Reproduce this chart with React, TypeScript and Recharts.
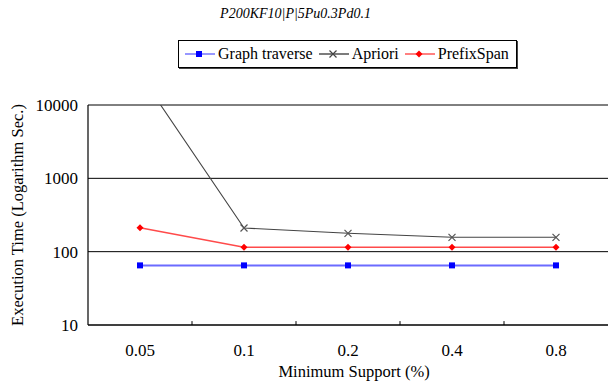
import { LineChart, Line, XAxis, YAxis, CartesianGrid, Legend, ReferenceLine } from 'recharts';

const supports = ['0.05', '0.1', '0.2', '0.4', '0.8'];
const graphTraverse = [65, 65, 65, 65, 65];
const apriori = [26000, 210, 178, 157, 157];
const prefixSpan = [212, 115, 115, 115, 115];
const yTicks = [10, 100, 1000, 10000];
const seriesOrder = ['Graph traverse', 'Apriori', 'PrefixSpan'];

// x sits in the middle of each category slot, slot edges get a short inward tick
const slotCenters = supports.map((_, i) => i + 0.5);
const slotEdges = [1, 2, 3, 4];
const edgeTickTop = 11.3; // about 4px above the 10 baseline on the log axis

const data = supports.map((s, i) => ({
  x: slotCenters[i],
  support: s,
  graph: graphTraverse[i],
  apriori: apriori[i],
  prefix: prefixSpan[i],
}));

const FONT = 'Liberation Serif';

const Square = (props: any) => {
  const { cx, cy, fill } = props;
  if (cx == null || cy == null) return null;
  return <rect x={cx - 3} y={cy - 3} width={6} height={6} fill={fill} />;
};

const Diamond = (props: any) => {
  const { cx, cy, fill } = props;
  if (cx == null || cy == null) return null;
  return <path d={`M${cx},${cy - 3.5}L${cx + 3.5},${cy}L${cx},${cy + 3.5}L${cx - 3.5},${cy}Z`} fill={fill} />;
};

const Cross = (props: any) => {
  const { cx, cy, stroke } = props;
  if (cx == null || cy == null) return null;
  return (
    <path
      d={`M${cx - 3.5},${cy - 3.5}L${cx + 3.5},${cy + 3.5}M${cx - 3.5},${cy + 3.5}L${cx + 3.5},${cy - 3.5}`}
      stroke={stroke}
      strokeWidth={1.2}
      fill="none"
    />
  );
};

const markerFor: Record<string, (p: any) => any> = {
  'Graph traverse': (p) => <Square {...p} />,
  Apriori: (p) => <Cross {...p} />,
  PrefixSpan: (p) => <Diamond {...p} />,
};

const markerColor: Record<string, string> = {
  'Graph traverse': '#0000ff',
  Apriori: '#444444',
  PrefixSpan: '#ff0000',
};

const LegendBox = ({ payload }: any) => {
  const items = [...(payload || [])].sort((a: any, b: any) => seriesOrder.indexOf(a.value) - seriesOrder.indexOf(b.value));
  return (
    <div
      style={{
        border: '1px solid #000',
        width: 337,
        height: 26,
        display: 'flex',
        alignItems: 'center',
        fontFamily: FONT,
        fontSize: 16,
        color: '#000',
        boxShadow: '1px 1px 0 #444',
      }}
    >
      {items.map((item: any) => (
        <div key={item.value} style={{ display: 'flex', alignItems: 'center', marginLeft: 6 }}>
          <svg width={30} height={10}>
            <line x1={0} y1={5} x2={30} y2={5} stroke={item.color} strokeWidth={1.4} />
            {markerFor[item.value]({ cx: 14, cy: 5, fill: markerColor[item.value], stroke: markerColor[item.value] })}
          </svg>
          <span style={{ marginLeft: 3 }}>{item.value}</span>
        </div>
      ))}
    </div>
  );
};

export default function App() {
  return (
    <div style={{ position: 'absolute', top: 0, left: 0, width: 608, height: 384, background: '#fff', overflow: 'hidden' }}>
      <div
        style={{
          position: 'absolute',
          top: 6,
          left: 0,
          width: 591,
          textAlign: 'center',
          fontStyle: 'italic',
          fontSize: 14,
          color: '#000',
          fontFamily: FONT,
        }}
      >
        P200KF10|P|5Pu0.3Pd0.1
      </div>
      <LineChart width={608} height={384} data={data} margin={{ top: 105, right: 0, left: 8, bottom: 27 }}>
        <CartesianGrid horizontal vertical={false} stroke="#000" />
        <XAxis
          dataKey="x"
          type="number"
          domain={[0, 5]}
          allowDataOverflow
          ticks={slotCenters}
          interval={0}
          tickFormatter={(v: number) => supports[Math.round(v - 0.5)]}
          height={32}
          tickLine={false}
          tickSize={0}
          tickMargin={19}
          axisLine={{ stroke: '#000', strokeWidth: 1.2 }}
          tick={{ fill: '#000', fontSize: 17, fontFamily: FONT }}
          label={{
            content: (p: any) => {
              const vb = p.viewBox;
              return (
                <text x={vb.x + vb.width / 2 + 6} y={vb.y + 52} textAnchor="middle" fontSize={16.5} fontFamily={FONT} fill="#000">
                  Minimum Support (%)
                </text>
              );
            },
          }}
        />
        <YAxis
          scale="log"
          domain={[10, 10000]}
          ticks={yTicks}
          allowDataOverflow
          width={80}
          tickLine={false}
          tickSize={0}
          tickMargin={10}
          axisLine={{ stroke: '#000', strokeWidth: 1.2 }}
          tick={{ fill: '#000', fontSize: 17, fontFamily: FONT }}
          label={{
            content: (p: any) => {
              const vb = p.viewBox;
              const cx = vb.x + 9;
              const cy = vb.y + vb.height / 2;
              return (
                <text
                  x={cx}
                  y={cy}
                  transform={`rotate(-90 ${cx} ${cy})`}
                  textAnchor="middle"
                  dominantBaseline="central"
                  fontSize={16.5}
                  fontFamily={FONT}
                  fill="#000"
                >
                  Execution Time (Logarithm Sec.)
                </text>
              );
            },
          }}
        />
        {slotEdges.map((e) => (
          <ReferenceLine
            key={`edge${e}`}
            segment={[
              { x: e, y: 10 },
              { x: e, y: edgeTickTop },
            ]}
            stroke="#000"
          />
        ))}
        <Legend
          layout="horizontal"
          verticalAlign="middle"
          align="center"
          wrapperStyle={{ top: 40, left: 178, width: 'auto' }}
          content={<LegendBox />}
        />
        <Line
          name="Graph traverse"
          dataKey="graph"
          stroke="#6b6bff"
          strokeWidth={2}
          dot={(p: any) => <Square key={`g${p.index}`} {...p} fill="#0000ff" />}
          activeDot={false}
          isAnimationActive={false}
        />
        <Line
          name="Apriori"
          dataKey="apriori"
          stroke="#444444"
          strokeWidth={1.1}
          dot={(p: any) => <Cross key={`a${p.index}`} {...p} stroke="#555555" />}
          activeDot={false}
          isAnimationActive={false}
        />
        <Line
          name="PrefixSpan"
          dataKey="prefix"
          stroke="#ff4a4a"
          strokeWidth={1.6}
          dot={(p: any) => <Diamond key={`p${p.index}`} {...p} fill="#ff0000" />}
          activeDot={false}
          isAnimationActive={false}
        />
      </LineChart>
    </div>
  );
}
